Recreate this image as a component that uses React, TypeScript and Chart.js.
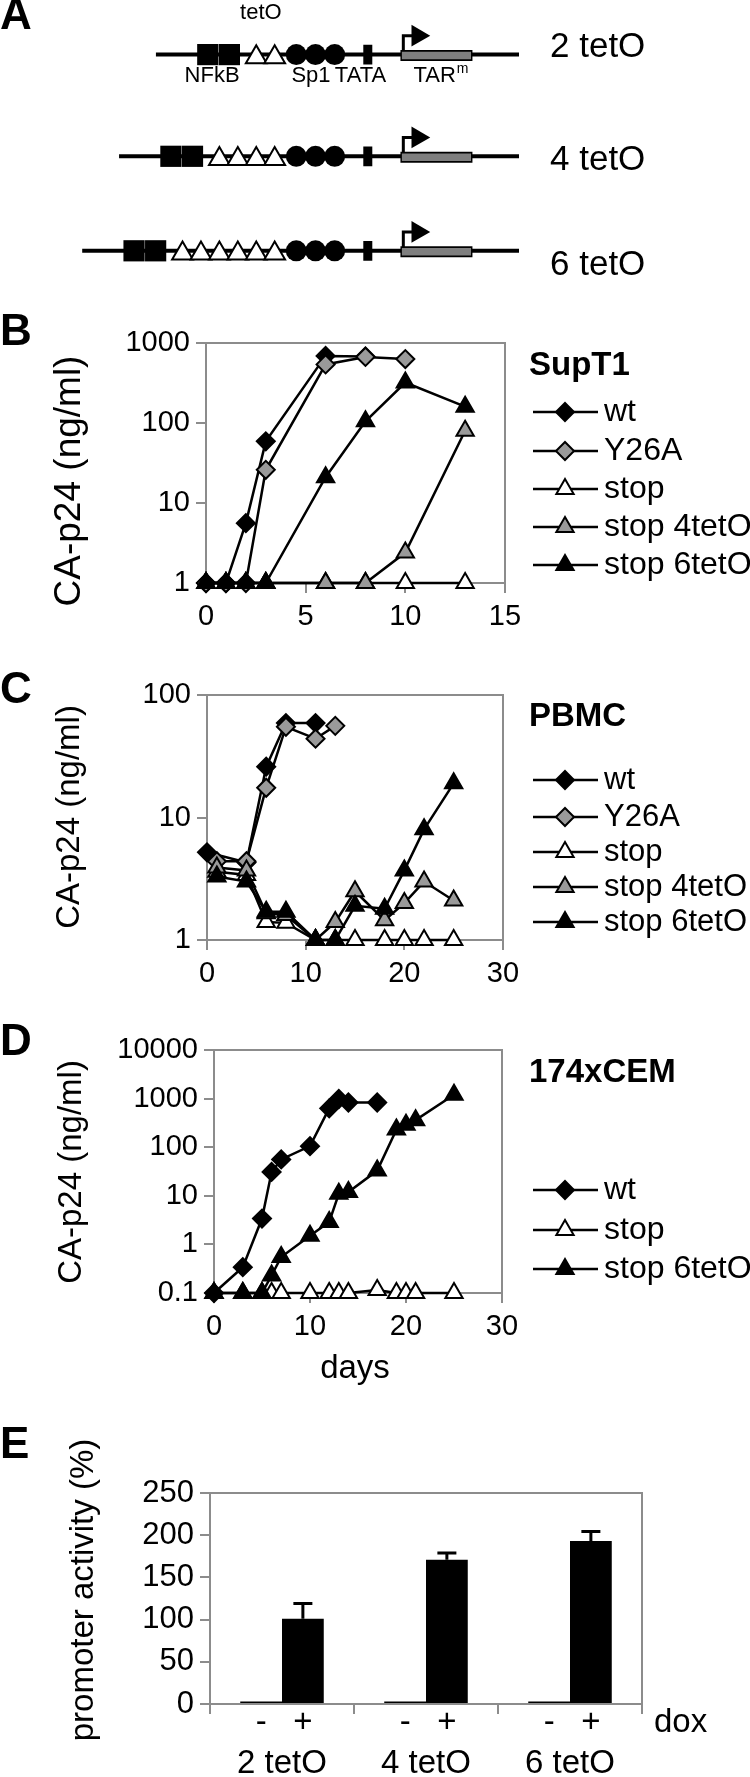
import React, { useEffect, useRef } from 'react';
import { Chart, registerables } from 'chart.js';
import { drawPoint } from 'chart.js/helpers';

Chart.register(...registerables);

const FONT = "'Liberation Sans', Arial, Helvetica, sans-serif";
const FRAME = '#8c8c8c';
const GRAY = '#9a9a9a';

// ===== Panel A: promoter constructs =====
const constructNames = ['2 tetO', '4 tetO', '6 tetO'];
const tetOCopies = [2, 4, 6];
const nfkbSites = 2;
const sp1Sites = 3;

// ===== Panel B: SupT1 =====
const supT1Days = [0, 1, 2, 3, 6, 8, 10, 13];
const supT1Wt = [1, 1, 5.6, 59, 690, 680, null, null];
const supT1Y26A = [1, 1, 1, 26, 540, 670, 630, null];
const supT1Stop = [1, 1, 1, 1, 1, 1, 1, 1];
const supT1Stop4 = [1, 1, 1, 1, 1, 1, 2.4, 80];
const supT1Stop6 = [1, 1, 1, 1, 21, 105, 320, 160];
const supT1XTicks = [0, 5, 10, 15];
const supT1YTicks = [1, 10, 100, 1000];

// ===== Panel C: PBMC =====
const pbmcDays = [0, 1, 4, 6, 8, 11, 13, 15, 18, 20, 22, 25];
const pbmcWt = [5.2, null, 4.3, 26, 59, 59, null, null, null, null, null, null];
const pbmcY26A = [null, 4.4, 4.4, 17.5, 55, 44, 56, null, null, null, null, null];
const pbmcStop = [null, 3.6, 3.4, 1.4, 1.38, 1, 1, 1, 1, 1, 1, 1];
const pbmcStop4 = [null, 3.9, 3.7, 1.65, 1.6, 1, 1.4, 2.5, 1.45, 2.0, 3.0, 2.1];
const pbmcStop6 = [null, 3.3, 3.0, 1.7, 1.7, 1, 1, 1.9, 1.8, 3.7, 8.0, 19];
const pbmcXTicks = [0, 10, 20, 30];
const pbmcYTicks = [1, 10, 100];

// ===== Panel D: 174xCEM =====
const cemDays = [0, 3, 5, 6, 7, 10, 12, 13, 14, 17, 19, 20, 21, 25];
const cemWt = [0.1, 0.34, 3.4, 31, 56, 105, 630, 980, 830, 830, null, null, null, null];
const cemStop = [0.1, 0.1, 0.1, 0.1, 0.1, 0.1, 0.1, 0.1, 0.1, 0.115, 0.1, 0.1, 0.1, 0.1];
const cemStop6 = [0.1, 0.1, 0.1, 0.23, 0.55, 1.5, 2.9, 11, 12, 33, 230, 290, 360, 1200];
const cemXTicks = [0, 10, 20, 30];
const cemYTicks = [0.1, 1, 10, 100, 1000, 10000];

// ===== Panel E: promoter activity =====
const promoterGroups = ['2 tetO', '4 tetO', '6 tetO'];
const doxLevels = ['-', '+'];
const activityNoDox = [3, 3, 3];
const activityDox = [101, 171, 193];
const activityDoxErr = [18, 8, 11.5];
const activityYTicks = [0, 50, 100, 150, 200, 250];

const SERIES_STYLE: Record<string, { pointStyle: string; fill: string; radius: number }> = {
  'wt': { pointStyle: 'rectRot', fill: '#000000', radius: 9 },
  'Y26A': { pointStyle: 'rectRot', fill: GRAY, radius: 9 },
  'stop': { pointStyle: 'triangle', fill: '#ffffff', radius: 10 },
  'stop 4tetO': { pointStyle: 'triangle', fill: GRAY, radius: 10 },
  'stop 6tetO': { pointStyle: 'triangle', fill: '#000000', radius: 10 },
};

const TICK_SIZE = 29;
const LETTER_SIZE = 44;

function drawText(ctx: any, text: string, x: number, y: number, size: number, opts: any = {}) {
  ctx.save();
  ctx.font = `${opts.bold ? 'bold ' : ''}${size}px ${FONT}`;
  ctx.fillStyle = '#000';
  ctx.textAlign = opts.align || 'left';
  ctx.textBaseline = 'middle';
  if (opts.rotate) {
    ctx.translate(x, y);
    ctx.rotate(-Math.PI / 2);
    ctx.fillText(text, 0, 0);
  } else {
    ctx.fillText(text, x, y);
  }
  ctx.restore();
}

function frameStroke(ctx: any, a: any) {
  ctx.save();
  ctx.strokeStyle = FRAME;
  ctx.lineWidth = 2;
  ctx.beginPath();
  ctx.moveTo(a.left, a.top);
  ctx.lineTo(a.right, a.top);
  ctx.lineTo(a.right, a.bottom);
  ctx.stroke();
  ctx.restore();
}

// ---------- schematic (panel A) ----------
function buildSchematicConfig(top: number, height: number) {
  const ROW_Y = [44, 157, 262];
  const LINE_END = 525;
  const TRI_LAST = 270.5, TRI_STEP = 19.2;
  const SQ_GAP = 28, SQ_STEP = 22.5, LINE_LEAD = 54;
  const SP1_FIRST = 293, SP1_STEP = 20;
  const TATA_X = 367.5;
  const TAR_START = 403, TAR_END = 475;
  const ARROW_X = 404.5, ARROW_RISE = 21, ARROW_HEAD_X = 419.5;
  const LABEL_Y = 76, LABEL_SIZE = 22;
  const layers: any[] = [];
  const rowsInfo: any[] = [];
  constructNames.forEach((name, r) => {
    const y = ROW_Y[r];
    const n = tetOCopies[r];
    const triX = Array.from({ length: n }, (_, k) => TRI_LAST - (n - 1 - k) * TRI_STEP);
    const sq2 = triX[0] - SQ_GAP;
    const sqX = Array.from({ length: nfkbSites }, (_, k) => sq2 - (nfkbSites - 1 - k) * SQ_STEP);
    const spX = Array.from({ length: sp1Sites }, (_, k) => SP1_FIRST + k * SP1_STEP);
    const lineStart = sqX[0] - LINE_LEAD;
    rowsInfo.push({ name, y, triX, sqX, spX });
    const seg = (pts: any[], width: number, color: string) => ({
      data: pts, showLine: true, borderColor: color, borderWidth: width, pointRadius: 0,
      borderCapStyle: 'butt', borderJoinStyle: 'miter', clip: false,
    });
    const pts = (xs: number[], yy: number, style: string, radius: number, fill: string, bw: number) => ({
      data: xs.map((x) => ({ x, y: yy })), showLine: false, pointStyle: style, pointRadius: radius,
      pointBackgroundColor: fill, pointBorderColor: '#000', pointBorderWidth: bw, clip: false,
    });
    layers.push(seg([{ x: lineStart, y }, { x: LINE_END, y }], 4, '#000'));
    layers.push(seg([{ x: TAR_START - 1.5, y: y + 1 }, { x: TAR_END + 1.5, y: y + 1 }], 11, '#000'));
    layers.push(seg([{ x: TAR_START, y: y + 1 }, { x: TAR_END, y: y + 1 }], 7.5, '#7f7f7f'));
    layers.push(seg([{ x: TATA_X, y: y - 11 }, { x: TATA_X, y: y + 11 }], 9, '#000'));
    layers.push(seg([{ x: ARROW_X, y: y - 4 }, { x: ARROW_X, y: y - ARROW_RISE }, { x: ARROW_HEAD_X - 4, y: y - ARROW_RISE }], 3, '#000'));
    layers.push({ ...pts([ARROW_HEAD_X], y - ARROW_RISE, 'triangle', 12.5, '#000', 0), pointRotation: 90 });
    layers.push(pts(sqX, y, 'rect', 15, '#000', 0));
    layers.push(pts(triX, y + 3, 'triangle', 12, '#fff', 2));
    layers.push(pts(spX, y, 'circle', 10.5, '#000', 0));
  });
  const total = layers.length;
  layers.forEach((l, i) => (l.order = total - i));

  const decor = {
    id: 'decorA',
    afterDraw(chart: any) {
      const ctx = chart.ctx;
      drawText(ctx, 'A', 0, 17, LETTER_SIZE, { bold: true });
      const r0 = rowsInfo[0];
      const mean = (a: number[]) => a.reduce((s, v) => s + v, 0) / a.length;
      drawText(ctx, 'tetO', mean(r0.triX), 13, LABEL_SIZE, { align: 'center' });
      drawText(ctx, 'NFkB', mean(r0.sqX), LABEL_Y, LABEL_SIZE, { align: 'center' });
      drawText(ctx, 'Sp1', mean(r0.spX) - 2, LABEL_Y, LABEL_SIZE, { align: 'center' });
      drawText(ctx, 'TATA', TATA_X - 7, LABEL_Y, LABEL_SIZE, { align: 'center' });
      // TAR with superscript m
      ctx.save();
      ctx.font = `${LABEL_SIZE}px ${FONT}`;
      const wTar = ctx.measureText('TAR').width;
      ctx.font = `14px ${FONT}`;
      const wM = ctx.measureText('m').width;
      ctx.restore();
      const cx = (TAR_START + TAR_END) / 2 + 2;
      const x0 = cx - (wTar + wM + 1) / 2;
      drawText(ctx, 'TAR', x0, LABEL_Y, LABEL_SIZE);
      drawText(ctx, 'm', x0 + wTar + 1, LABEL_Y - 7, 14);
      rowsInfo.forEach((r) => drawText(ctx, r.name, 550, r.y + 3, 35));
    },
  };

  return {
    type: 'scatter',
    data: { datasets: layers },
    options: {
      responsive: false, animation: false, events: [],
      layout: { padding: 0 },
      scales: {
        x: { type: 'linear', min: 0, max: 750, display: false },
        y: { type: 'linear', min: top, max: top + height, reverse: true, display: false },
      },
      plugins: { legend: { display: false }, tooltip: { enabled: false } },
    },
    plugins: [decor],
  };
}

// ---------- log line panels (B, C, D) ----------
function buildLineConfig(s: any) {
  const n = s.series.length;
  const datasets = s.series.map((ser: any, i: number) => {
    const st = SERIES_STYLE[ser.name];
    const data = s.days
      .map((d: number, j: number) => ({ x: d, y: ser.values[j] }))
      .filter((p: any) => p.y !== null && p.y !== undefined);
    return {
      label: ser.name, data, showLine: true, borderColor: '#000', borderWidth: 2.5,
      pointStyle: st.pointStyle, pointRadius: st.radius, pointHoverRadius: st.radius,
      pointBackgroundColor: st.fill, pointBorderColor: '#000', pointBorderWidth: 2,
      clip: false, order: n - i, tension: 0,
    };
  });
  const L = (y: number) => y - s.top;
  const decor = {
    id: 'decorLine',
    beforeDatasetsDraw(chart: any) {
      frameStroke(chart.ctx, chart.chartArea);
    },
    afterDraw(chart: any) {
      const ctx = chart.ctx;
      const a = chart.chartArea;
      drawText(ctx, s.letter, 0, L(s.letterY), LETTER_SIZE, { bold: true });
      drawText(ctx, 'CA-p24 (ng/ml)', s.yTitleX, L(s.yTitleY), s.yTitleSize, { rotate: true, align: 'center' });
      drawText(ctx, s.cell, 529, L(s.cellY), 33, { bold: true });
      if (s.xTitle) drawText(ctx, s.xTitle, (a.left + a.right) / 2 - 3, L(s.xTitleY), 33, { align: 'center' });
      s.series.forEach((ser: any, i: number) => {
        const st = SERIES_STYLE[ser.name];
        const y = L(s.legendYs[i]);
        ctx.save();
        ctx.strokeStyle = '#000';
        ctx.lineWidth = 2.5;
        ctx.beginPath();
        ctx.moveTo(533, y);
        ctx.lineTo(598, y);
        ctx.stroke();
        ctx.fillStyle = st.fill;
        ctx.lineWidth = 2;
        drawPoint(ctx, { pointStyle: st.pointStyle, radius: st.radius, borderWidth: 2, rotation: 0 } as any, 565, y);
        ctx.restore();
        drawText(ctx, ser.name, 604, y, s.legendSize);
      });
    },
  };
  const gridOpts = { drawOnChartArea: false, drawTicks: true, tickLength: 10, color: FRAME, lineWidth: 2 };
  const borderOpts = { display: true, color: FRAME, width: 2 };
  return {
    type: 'scatter',
    data: { datasets },
    options: {
      responsive: false, animation: false, events: [],
      layout: { padding: { left: 0, top: s.area.top - s.top, right: 750 - s.area.right, bottom: 0 } },
      scales: {
        x: {
          type: 'linear', min: 0, max: s.xMax,
          afterBuildTicks: (sc: any) => { sc.ticks = s.xTicks.map((v: number) => ({ value: v })); },
          afterFit: (sc: any) => {
            sc.height = s.top + s.height - s.area.bottom;
            sc.paddingLeft = 0; sc.paddingRight = 0; sc.paddingTop = 0; sc.paddingBottom = 0;
          },
          ticks: { color: '#000', font: { family: FONT, size: TICK_SIZE }, padding: 7, maxRotation: 0, autoSkip: false },
          grid: gridOpts, border: borderOpts,
        },
        y: {
          type: 'logarithmic', min: s.yMin, max: s.yMax,
          afterBuildTicks: (sc: any) => { sc.ticks = s.yTicks.map((v: number) => ({ value: v })); },
          afterFit: (sc: any) => {
            sc.width = s.area.left;
            sc.paddingLeft = 0; sc.paddingRight = 0; sc.paddingTop = 0; sc.paddingBottom = 0;
          },
          ticks: { color: '#000', font: { family: FONT, size: TICK_SIZE }, padding: 6, autoSkip: false, callback: (v: any) => String(v) },
          grid: gridOpts, border: borderOpts,
        },
      },
      plugins: { legend: { display: false }, tooltip: { enabled: false } },
    },
    plugins: [decor],
  };
}

// ---------- bar panel (E) ----------
function buildBarConfig(top: number, height: number) {
  const area = { left: 210, right: 642, top: 1493, bottom: 1704 };
  const L = (y: number) => y - top;
  const decor = {
    id: 'decorE',
    beforeDatasetsDraw(chart: any) {
      frameStroke(chart.ctx, chart.chartArea);
    },
    afterDraw(chart: any) {
      const ctx = chart.ctx;
      const a = chart.chartArea;
      const yScale = chart.scales.y;
      const plusMeta = chart.getDatasetMeta(1);
      ctx.save();
      ctx.strokeStyle = '#000';
      ctx.lineWidth = 3;
      plusMeta.data.forEach((bar: any, i: number) => {
        const yTop = yScale.getPixelForValue(activityDox[i] + activityDoxErr[i]);
        const yBar = yScale.getPixelForValue(activityDox[i]);
        ctx.beginPath();
        ctx.moveTo(bar.x, yBar);
        ctx.lineTo(bar.x, yTop);
        ctx.moveTo(bar.x - 9.5, yTop);
        ctx.lineTo(bar.x + 9.5, yTop);
        ctx.stroke();
      });
      ctx.restore();
      [0, 1].forEach((d) => {
        chart.getDatasetMeta(d).data.forEach((bar: any) => {
          drawText(ctx, doxLevels[d], bar.x, L(1723), 33, { align: 'center' });
        });
      });
      drawText(ctx, 'dox', 654, L(1723), 33);
      drawText(ctx, 'E', 0, L(1446), LETTER_SIZE, { bold: true });
      drawText(ctx, 'promoter activity (%)', 84, L(1590), 33, { rotate: true, align: 'center' });
    },
  };
  const gridOpts = { drawOnChartArea: false, drawTicks: true, tickLength: 10, color: FRAME, lineWidth: 2 };
  const borderOpts = { display: true, color: FRAME, width: 2 };
  return {
    type: 'bar',
    data: {
      labels: promoterGroups,
      datasets: [
        { label: doxLevels[0], data: activityNoDox, backgroundColor: '#000', categoryPercentage: 0.58, barPercentage: 1 },
        { label: doxLevels[1], data: activityDox, backgroundColor: '#000', categoryPercentage: 0.58, barPercentage: 1 },
      ],
    },
    options: {
      responsive: false, animation: false, events: [],
      layout: { padding: { left: 0, top: area.top - top, right: 750 - area.right, bottom: 0 } },
      scales: {
        x: {
          grid: { ...gridOpts, offset: true }, border: borderOpts,
          afterFit: (sc: any) => {
            sc.height = top + height - area.bottom;
            sc.paddingLeft = 0; sc.paddingRight = 0; sc.paddingTop = 0; sc.paddingBottom = 0;
          },
          ticks: { color: '#000', font: { family: FONT, size: 33 }, padding: 30, maxRotation: 0, autoSkip: false },
        },
        y: {
          min: 0, max: 250,
          afterBuildTicks: (sc: any) => { sc.ticks = activityYTicks.map((v) => ({ value: v })); },
          afterFit: (sc: any) => {
            sc.width = area.left;
            sc.paddingLeft = 0; sc.paddingRight = 0; sc.paddingTop = 0; sc.paddingBottom = 0;
          },
          ticks: { color: '#000', font: { family: FONT, size: 31 }, padding: 6, autoSkip: false },
          grid: gridOpts, border: borderOpts,
        },
      },
      plugins: { legend: { display: false }, tooltip: { enabled: false } },
    },
    plugins: [decor],
  };
}

function ChartCanvas({ top, height, build }: { top: number; height: number; build: () => any }) {
  const ref = useRef<HTMLCanvasElement | null>(null);
  useEffect(() => {
    if (!ref.current) return;
    const chart = new Chart(ref.current, build());
    return () => chart.destroy();
  }, []);
  return (
    <div style={{ position: 'absolute', left: 0, top, width: 750, height }}>
      <canvas ref={ref} width={750} height={height} style={{ display: 'block', width: 750, height }} />
    </div>
  );
}

const panelB = {
  top: 300, height: 340, area: { left: 206, right: 505, top: 343, bottom: 583 },
  days: supT1Days,
  series: [
    { name: 'wt', values: supT1Wt },
    { name: 'Y26A', values: supT1Y26A },
    { name: 'stop', values: supT1Stop },
    { name: 'stop 4tetO', values: supT1Stop4 },
    { name: 'stop 6tetO', values: supT1Stop6 },
  ],
  xMax: 15, xTicks: supT1XTicks, yMin: 1, yMax: 1000, yTicks: supT1YTicks,
  letter: 'B', letterY: 333, cell: 'SupT1', cellY: 366, yTitleX: 70, yTitleY: 481, yTitleSize: 37,
  legendYs: [412, 451, 489, 527, 565], legendSize: 32,
};

const panelC = {
  top: 640, height: 360, area: { left: 207, right: 503, top: 695, bottom: 940 },
  days: pbmcDays,
  series: [
    { name: 'wt', values: pbmcWt },
    { name: 'Y26A', values: pbmcY26A },
    { name: 'stop', values: pbmcStop },
    { name: 'stop 4tetO', values: pbmcStop4 },
    { name: 'stop 6tetO', values: pbmcStop6 },
  ],
  xMax: 30, xTicks: pbmcXTicks, yMin: 1, yMax: 100, yTicks: pbmcYTicks,
  letter: 'C', letterY: 691, cell: 'PBMC', cellY: 717, yTitleX: 70, yTitleY: 817, yTitleSize: 33,
  legendYs: [780, 817, 852, 887, 922], legendSize: 31,
};

const panelD = {
  top: 1000, height: 400, area: { left: 214, right: 502, top: 1050, bottom: 1293 },
  days: cemDays,
  series: [
    { name: 'wt', values: cemWt },
    { name: 'stop', values: cemStop },
    { name: 'stop 6tetO', values: cemStop6 },
  ],
  xMax: 30, xTicks: cemXTicks, yMin: 0.1, yMax: 10000, yTicks: cemYTicks,
  letter: 'D', letterY: 1043, cell: '174xCEM', cellY: 1073, yTitleX: 72, yTitleY: 1172, yTitleSize: 33,
  legendYs: [1190, 1230, 1269], legendSize: 32,
  xTitle: 'days', xTitleY: 1369,
};

export default function App() {
  return (
    <div style={{ position: 'absolute', left: 0, top: 0, width: 750, height: 1777, background: '#fff' }}>
      <ChartCanvas top={0} height={300} build={() => buildSchematicConfig(0, 300)} />
      <ChartCanvas top={panelB.top} height={panelB.height} build={() => buildLineConfig(panelB)} />
      <ChartCanvas top={panelC.top} height={panelC.height} build={() => buildLineConfig(panelC)} />
      <ChartCanvas top={panelD.top} height={panelD.height} build={() => buildLineConfig(panelD)} />
      <ChartCanvas top={1400} height={377} build={() => buildBarConfig(1400, 377)} />
    </div>
  );
}
